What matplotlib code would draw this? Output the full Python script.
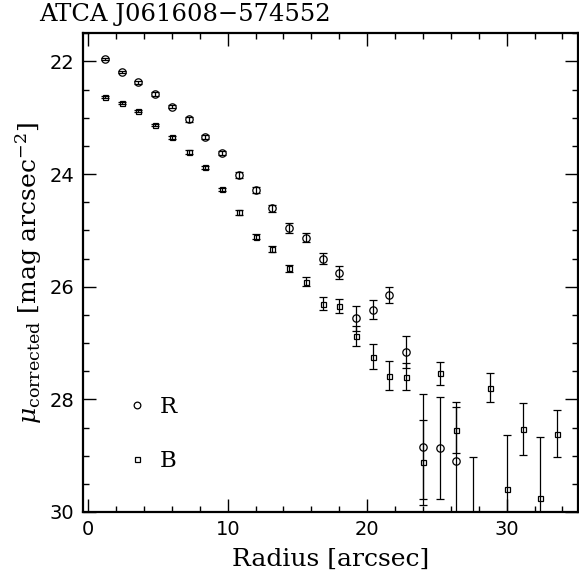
#!/usr/bin/env python3
import matplotlib as mpl
mpl.use('Agg')
import matplotlib.pyplot as plt
from matplotlib.lines import Line2D
from matplotlib.ticker import MultipleLocator

# radius [arcsec]
r_radius = [1.2, 2.4, 3.6, 4.8, 6.0, 7.2, 8.4, 9.6, 10.8, 12.0, 13.2, 14.4,
            15.6, 16.8, 18.0, 19.2, 20.4, 21.6, 22.8, 24.0, 25.2, 26.4]
r_mu = [21.96, 22.19, 22.37, 22.58, 22.80, 23.03, 23.34, 23.63, 24.02, 24.28,
        24.61, 24.95, 25.13, 25.50, 25.75, 26.56, 26.41, 26.15, 27.16, 28.84,
        28.86, 29.10]
r_err = [0.02, 0.02, 0.03, 0.03, 0.03, 0.04, 0.04, 0.04, 0.05, 0.05, 0.06,
         0.09, 0.08, 0.10, 0.11, 0.22, 0.17, 0.14, 0.29, 0.93, 0.91, 1.06]

b_radius = [1.2, 2.4, 3.6, 4.8, 6.0, 7.2, 8.4, 9.6, 10.8, 12.0, 13.2, 14.4,
            15.6, 16.8, 18.0, 19.2, 20.4, 21.6, 22.8, 24.0, 25.2, 26.4,
            27.6, 28.8, 30.0, 31.2, 32.4, 33.6]
b_mu = [22.63, 22.74, 22.88, 23.13, 23.35, 23.61, 23.88, 24.27, 24.68, 25.11,
        25.33, 25.67, 25.91, 26.30, 26.34, 26.87, 27.24, 27.58, 27.60, 29.12,
        27.54, 28.54, 30.30, 27.79, 29.59, 28.52, 29.75, 28.61]
b_err = [0.02, 0.02, 0.02, 0.02, 0.03, 0.03, 0.03, 0.03, 0.04, 0.05, 0.05,
         0.06, 0.08, 0.11, 0.12, 0.18, 0.22, 0.26, 0.24, 0.76, 0.21, 0.41,
         1.28, 0.26, 0.96, 0.46, 1.09, 0.42]

plt.rcParams['mathtext.fontset'] = 'dejavuserif'

fig = plt.figure(figsize=(5.79, 5.84), dpi=100)
ax = fig.add_axes([0.1428, 0.1233, 0.8560, 0.8197])

ax.errorbar(r_radius, r_mu, yerr=r_err, fmt='o', ms=5.3, mfc='none',
            mec='black', mew=0.9, ecolor='black', elinewidth=0.9,
            capsize=2.6, capthick=0.9, clip_on=True)
ax.errorbar(b_radius, b_mu, yerr=b_err, fmt='s', ms=3.6, mfc='none',
            mec='black', mew=0.9, ecolor='black', elinewidth=0.9,
            capsize=2.6, capthick=0.9, clip_on=True)

ax.set_xlim(-0.4, 35.14)
ax.set_ylim(30, 21.5)

ax.xaxis.set_major_locator(MultipleLocator(10))
ax.xaxis.set_minor_locator(MultipleLocator(2))
ax.yaxis.set_major_locator(MultipleLocator(2))
ax.yaxis.set_minor_locator(MultipleLocator(0.5))
ax.tick_params(which='both', direction='in', top=True, right=True,
               width=1.0, labelsize=14)
ax.tick_params(which='major', length=9.5, pad=6)
ax.tick_params(which='minor', length=4.5)
for lab in ax.get_xticklabels() + ax.get_yticklabels():
    lab.set_family('DejaVu Sans')
for sp in ax.spines.values():
    sp.set_linewidth(1.6)

ax.set_xlabel('Radius [arcsec]', family='DejaVu Serif', fontsize=18,
              labelpad=6)
ax.set_ylabel(r'$\mu_{\rm corrected}$ [mag arcsec$^{-2}$]',
              family='DejaVu Serif', fontsize=18, labelpad=4)
fig.text(0.067, 0.975, 'ATCA J061608\u2212574552', family='DejaVu Serif',
         fontsize=17.5, va='center', ha='left')

handles = [Line2D([], [], ls='none', marker='o', ms=4.8, mfc='none',
                  mec='black', mew=0.9),
           Line2D([], [], ls='none', marker='s', ms=3.6, mfc='none',
                  mec='black', mew=0.9)]
ax.legend(handles, ['R', 'B'], loc='lower left',
          bbox_to_anchor=(0.045, 0.04), frameon=False,
          prop={'family': 'DejaVu Serif', 'size': 16.5},
          handlelength=1.0, handletextpad=0.5, labelspacing=1.4)

plt.savefig('out.png', dpi=100)
